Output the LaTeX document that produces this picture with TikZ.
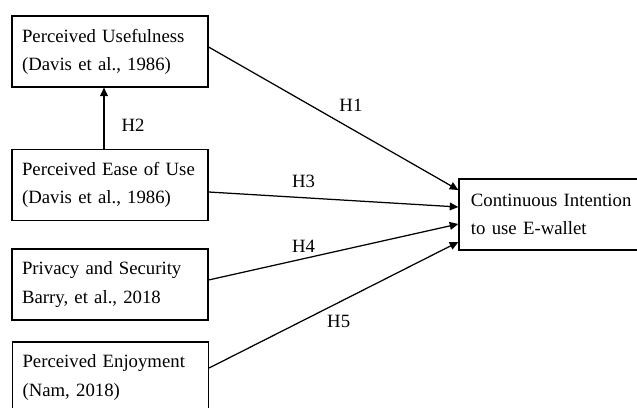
\documentclass[tikz,border=0pt]{standalone}
\usepackage{fontspec}
\setmainfont{Liberation Serif}
\usetikzlibrary{arrows.meta}
\usetikzlibrary{calc}
\tikzstyle{cbox}=[draw,line width=.8pt,rectangle,align=left,font=\fontsize{12}{18}\selectfont,minimum height=45.4pt,inner xsep=6.4pt,text width=112.6pt]
\tikzstyle{hhead}=[>/.tip={Triangle[length=5.5pt,width=5pt]}]
\tikzstyle{hyp}=[line width=.8pt,hhead,->]
\tikzstyle{hlab}=[font=\fontsize{12}{14}\selectfont,inner sep=0pt]

\begin{document}
\begin{tikzpicture}[x=0.64pt,y=-0.64pt]
	\useasboundingbox (0,0) rectangle (637,408);
	\node[cbox] (pu) at (110,51.5) {Perceived Usefulness\\(Davis et al., 1986)};
	\node[cbox] (pe) at (110,185) {Perceived Ease of Use\\(Davis et al., 1986)};
	\node[cbox] (ps) at (110,284.5) {Privacy and Security\\Barry, et al., 2018};
	\node[cbox] (en) at (110.5,377.5) {Perceived Enjoyment\\(Nam, 2018)};
	\node[cbox,inner xsep=7.7pt,text width=106pt] (ci) at (553.8,214.5) {Continuous Intention\\to use E-wallet};
	\draw[hyp] ($(pe.north)+(-6,0)$) --node[hlab,pos=.38,xshift=18.6pt] (h2) {H2} ($(pu.south)+(-6,0)$);
	\draw[hyp] ($(pu.east)+(0,-4.5)$) --node[hlab,pos=.57,yshift=14.7pt] (h1) {H1} ($(ci.west)+(0,-24.5)$);
	\draw[hyp] ($(pe.east)+(0,7)$) --node[hlab,pos=.38,yshift=10.7pt] (h3) {H3} ($(ci.west)+(0,-7.5)$);
	\draw[hyp] ($(ps.east)+(0,-4.5)$) --node[hlab,pos=.38,yshift=8pt] (h4) {H4} ($(ci.west)+(0,9.5)$);
	\draw[hyp] ($(en.east)+(0,-9.5)$) --node[hlab,pos=.52,yshift=-12.3pt] (h5) {H5} ($(ci.west)+(0,27.5)$);
\end{tikzpicture}
\end{document}
